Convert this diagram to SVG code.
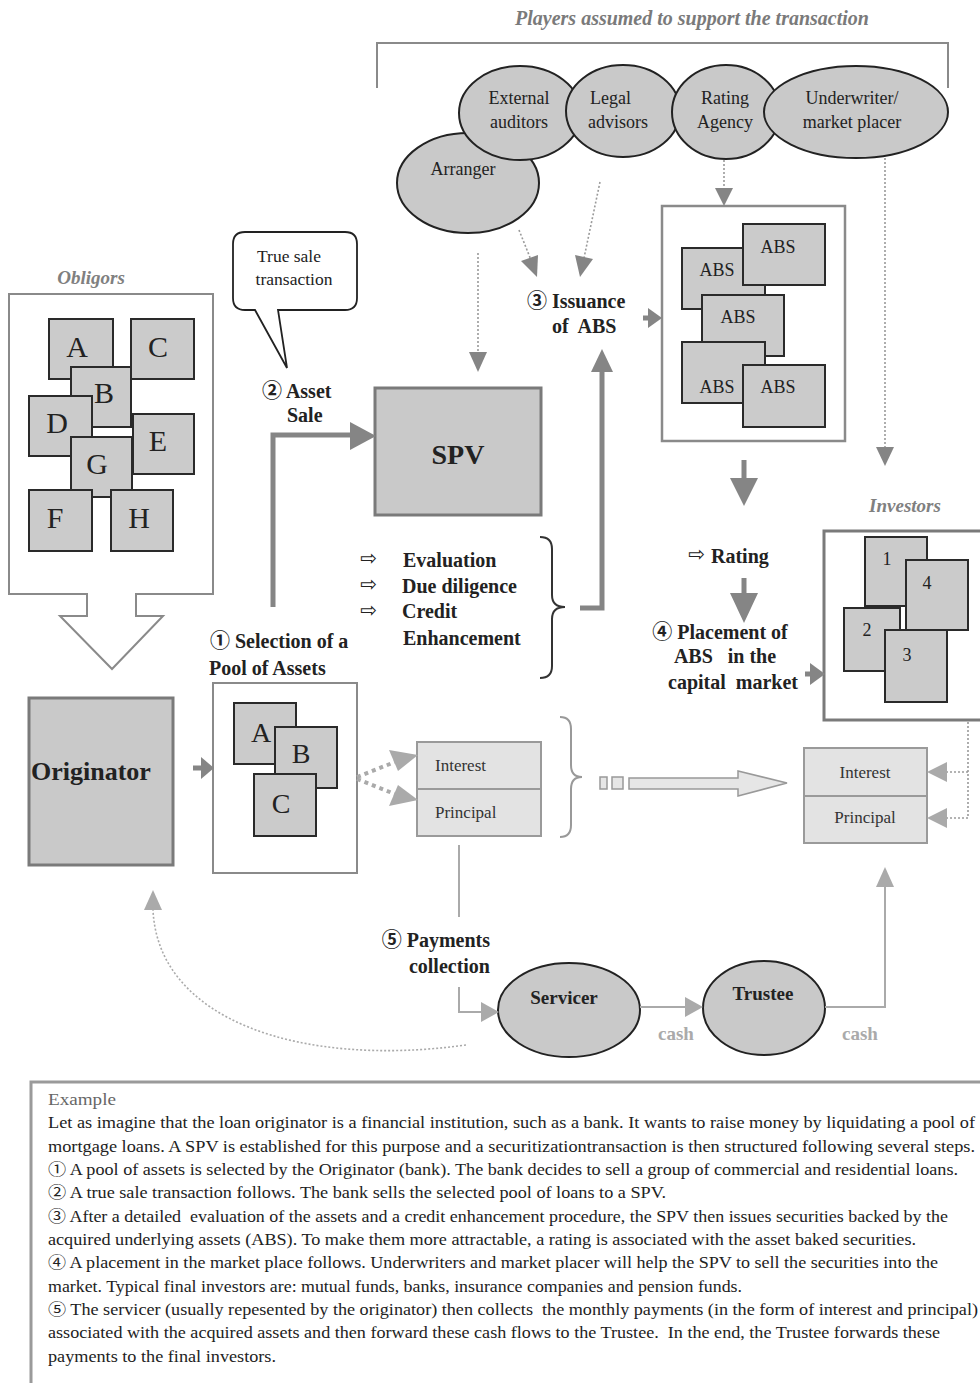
<svg xmlns="http://www.w3.org/2000/svg" width="980" height="1383" viewBox="0 0 980 1383">
<style>
.t{font-family:"Liberation Serif","DejaVu Serif","Noto Sans CJK JP",serif;fill:#222;white-space:pre}
.b{font-weight:bold}
.card{fill:#cbcbcb;stroke:#2a2a2a;stroke-width:2}
.ell{fill:#c9c9c9;stroke:#222;stroke-width:2}
.frame{fill:#fff;stroke:#8a8a8a;stroke-width:2.5}
.dot{stroke:#9a9a9a;stroke-width:1.6;stroke-dasharray:2 2;fill:none}
.head{fill:#858585}
.thick{stroke:#858585;stroke-width:5;fill:none}
.lite{stroke:#aaa;stroke-width:2;fill:none}
.litehead{fill:#aaa}
.ip{fill:#e3e3e3;stroke:#9a9a9a;stroke-width:2}
.arw{font-family:"DejaVu Sans",sans-serif;font-size:20px;fill:#222}
.ex{font-family:"Liberation Serif","DejaVu Serif","Noto Sans CJK JP",serif;font-size:16px;fill:#222;white-space:pre}
</style>
<rect width="980" height="1383" fill="#fff"/>

<g id="players">
<text class="t b" x="692" y="25" font-size="20" font-style="italic" style="fill:#7a7a7a" text-anchor="middle">Players assumed to support the transaction</text>
<path d="M377,88 V43 H948 V88" fill="none" stroke="#8a8a8a" stroke-width="2"/>
</g>
<g id="arranger"><ellipse class="ell" cx="468" cy="183" rx="71" ry="50"/><text class="t" x="463" y="175" font-size="18" text-anchor="middle">Arranger</text></g>
<g id="auditors"><ellipse class="ell" cx="520" cy="113" rx="61" ry="47"/><text class="t" x="519" y="104" font-size="18" text-anchor="middle">External</text><text class="t" x="519" y="128" font-size="18" text-anchor="middle">auditors</text></g>
<g id="legal"><ellipse class="ell" cx="623" cy="111" rx="57" ry="46"/><text class="t" x="590" y="104" font-size="18">Legal</text><text class="t" x="588" y="128" font-size="18">advisors</text></g>
<g id="rating"><ellipse class="ell" cx="726" cy="112" rx="54" ry="47"/><text class="t" x="725" y="104" font-size="18" text-anchor="middle">Rating</text><text class="t" x="725" y="128" font-size="18" text-anchor="middle">Agency</text></g>
<g id="underwriter"><ellipse class="ell" cx="856" cy="112" rx="92" ry="46"/><text class="t" x="852" y="104" font-size="18" text-anchor="middle">Underwriter/</text><text class="t" x="852" y="128" font-size="18" text-anchor="middle">market placer</text></g>

<g id="obligors">
<text class="t b" x="91" y="284" font-size="19" font-style="italic" style="fill:#808080" text-anchor="middle">Obligors</text>
<path d="M9,294 H213 V594 H136 V616 H163 L112,669 L60,616 H87 V594 H9 Z" fill="#fff" stroke="#8a8a8a" stroke-width="2"/>
<rect class="card" x="49" y="319" width="64" height="60"/><text class="t" x="77" y="357" font-size="30" text-anchor="middle">A</text>
<rect class="card" x="131" y="319" width="63" height="60"/><text class="t" x="158" y="357" font-size="30" text-anchor="middle">C</text>
<rect class="card" x="71" y="367" width="60" height="60"/><text class="t" x="104" y="403" font-size="30" text-anchor="middle">B</text>
<rect class="card" x="29" y="396" width="63" height="60"/><text class="t" x="57" y="433" font-size="30" text-anchor="middle">D</text>
<rect class="card" x="133" y="414" width="61" height="60"/><text class="t" x="158" y="451" font-size="30" text-anchor="middle">E</text>
<rect class="card" x="71" y="437" width="61" height="60"/><text class="t" x="97" y="474" font-size="30" text-anchor="middle">G</text>
<rect class="card" x="29" y="490" width="63" height="61"/><text class="t" x="55" y="528" font-size="30" text-anchor="middle">F</text>
<rect class="card" x="111" y="490" width="62" height="61"/><text class="t" x="139" y="528" font-size="30" text-anchor="middle">H</text>
</g>

<g id="truesale">
<path d="M245,232 H345 Q357,232 357,244 V298 Q357,310 345,310 H278 L287,368 L255,310 H245 Q233,310 233,298 V244 Q233,232 245,232 Z" fill="#fff" stroke="#222" stroke-width="1.8"/>
<text class="t" x="289" y="262" font-size="17.5" text-anchor="middle">True sale</text>
<text class="t" x="294" y="285" font-size="17.5" text-anchor="middle">transaction</text>
</g>

<g id="spv">
<rect x="375" y="388" width="166" height="127" fill="#c9c9c9" stroke="#7a7a7a" stroke-width="3"/>
<text class="t b" x="458" y="464" font-size="28" text-anchor="middle">SPV</text>
</g>

<g id="originator">
<rect x="29" y="698" width="144" height="167" fill="#c9c9c9" stroke="#7a7a7a" stroke-width="3"/>
<text class="t b" x="31" y="780" font-size="26">Originator</text>
</g>

<g id="pool">
<rect class="frame" x="213" y="683" width="144" height="190" style="stroke-width:2"/>
<rect class="card" x="234" y="703" width="62" height="61"/><text class="t" x="261" y="742" font-size="28" text-anchor="middle">A</text>
<rect class="card" x="275" y="727" width="62" height="61"/><text class="t" x="301" y="763" font-size="28" text-anchor="middle">B</text>
<rect class="card" x="254" y="774" width="62" height="62"/><text class="t" x="281" y="813" font-size="28" text-anchor="middle">C</text>
</g>

<g id="abs-box">
<rect class="frame" x="662" y="206" width="183" height="235"/>
<rect class="card" x="682" y="248" width="83" height="61"/><text class="t" x="717" y="276" font-size="18" text-anchor="middle">ABS</text>
<rect class="card" x="743" y="224" width="82" height="61"/><text class="t" x="778" y="253" font-size="18" text-anchor="middle">ABS</text>
<rect class="card" x="702" y="295" width="82" height="61"/><text class="t" x="738" y="323" font-size="18" text-anchor="middle">ABS</text>
<rect class="card" x="682" y="342" width="83" height="61"/><text class="t" x="717" y="393" font-size="18" text-anchor="middle">ABS</text>
<rect class="card" x="743" y="365" width="82" height="62"/><text class="t" x="778" y="393" font-size="18" text-anchor="middle">ABS</text>
</g>

<g id="investors">
<text class="t b" x="905" y="512" font-size="19" font-style="italic" style="fill:#808080" text-anchor="middle">Investors</text>
<rect x="824" y="531" width="200" height="189" fill="#fff" stroke="#7a7a7a" stroke-width="3"/>
<rect class="card" x="865" y="537" width="62" height="69"/><text class="t" x="887" y="565" font-size="18" text-anchor="middle">1</text>
<rect class="card" x="906" y="560" width="62" height="70"/><text class="t" x="927" y="589" font-size="18" text-anchor="middle">4</text>
<rect class="card" x="844" y="608" width="56" height="63"/><text class="t" x="867" y="636" font-size="18" text-anchor="middle">2</text>
<rect class="card" x="885" y="630" width="62" height="72"/><text class="t" x="907" y="661" font-size="18" text-anchor="middle">3</text>
</g>

<g id="ip-left">
<rect class="ip" x="417" y="742" width="124" height="47"/><rect class="ip" x="417" y="789" width="124" height="47"/>
<text class="t" x="435" y="771" font-size="17" style="fill:#333">Interest</text>
<text class="t" x="435" y="818" font-size="17" style="fill:#333">Principal</text>
</g>
<g id="ip-right">
<rect class="ip" x="804" y="748" width="123" height="48"/><rect class="ip" x="804" y="796" width="123" height="47"/>
<text class="t" x="865" y="778" font-size="17" style="fill:#333" text-anchor="middle">Interest</text>
<text class="t" x="865" y="823" font-size="17" style="fill:#333" text-anchor="middle">Principal</text>
</g>

<g id="servicer"><ellipse class="ell" cx="569" cy="1010" rx="71" ry="47"/><text class="t b" x="564" y="1004" font-size="19" text-anchor="middle">Servicer</text></g>
<g id="trustee"><ellipse class="ell" cx="764" cy="1008" rx="61" ry="47"/><text class="t b" x="763" y="1000" font-size="19" text-anchor="middle">Trustee</text></g>

<g id="labels">
<text class="t b" x="262" y="398" font-size="20">② Asset</text>
<text class="t b" x="287" y="422" font-size="20">Sale</text>
<text class="t b" x="527" y="308" font-size="20">③ Issuance</text>
<text class="t b" x="552" y="333" font-size="20">of  ABS</text>
<text class="t b" x="210" y="648" font-size="20">① Selection of a</text>
<text class="t b" x="209" y="675" font-size="20">Pool of Assets</text>
<text class="arw" x="360" y="565">⇨</text><text class="t b" x="403" y="567" font-size="20">Evaluation</text>
<text class="arw" x="360" y="591">⇨</text><text class="t b" x="402" y="593" font-size="20">Due diligence</text>
<text class="arw" x="360" y="617">⇨</text><text class="t b" x="402" y="618" font-size="20">Credit</text>
<text class="t b" x="403" y="645" font-size="20">Enhancement</text>
<text class="arw" x="688" y="561">⇨</text><text class="t b" x="711" y="563" font-size="20">Rating</text>
<text class="t b" x="720" y="639" font-size="20" text-anchor="middle">④ Placement of</text>
<text class="t b" x="725" y="663" font-size="20" text-anchor="middle">ABS   in the</text>
<text class="t b" x="733" y="689" font-size="20" text-anchor="middle">capital  market</text>
<text class="t b" x="490" y="947" font-size="20" text-anchor="end">⑤ Payments</text>
<text class="t b" x="490" y="973" font-size="20" text-anchor="end">collection</text>
<text class="t b" x="676" y="1040" font-size="19" text-anchor="middle" style="fill:#aaa">cash</text>
<text class="t b" x="860" y="1040" font-size="19" text-anchor="middle" style="fill:#aaa">cash</text>
</g>

<g id="connectors">
<line class="dot" x1="519" y1="230" x2="531" y2="260"/><polygon class="head" points="537,277 521,261 538,255"/>
<line class="dot" x1="600" y1="182" x2="584" y2="258"/><polygon class="head" points="580,277 575,255 593,259"/>
<line class="dot" x1="478" y1="253" x2="478" y2="353"/><polygon class="head" points="469,352 487,352 478,372"/>
<line class="dot" x1="724" y1="160" x2="724" y2="189"/><polygon class="head" points="715,188 733,188 724,206"/>
<line class="dot" x1="885" y1="158" x2="885" y2="448"/><polygon class="head" points="876,447 894,447 885,466"/>
<path class="thick" d="M273,607 V435 H352"/><polygon class="head" points="350,422 376,436 350,450"/>
<path d="M540,537 Q552,537 552,549 V595 Q552,607 565,607 Q552,607 552,619 V666 Q552,678 540,678" fill="none" stroke="#333" stroke-width="2"/>
<path class="thick" d="M580,608 H602 V370"/><polygon class="head" points="591,372 602,349 613,372"/>
<path class="thick" d="M643,318 H650"/><polygon class="head" points="648,308 662,318 648,328"/>
<path class="thick" d="M744,460 V480"/><polygon class="head" points="730,478 758,478 744,506"/>
<path class="thick" d="M744,578 V596"/><polygon class="head" points="730,593 758,593 744,623"/>
<path class="thick" d="M805,674 H812"/><polygon class="head" points="810,663 825,674 810,685"/>
<path class="thick" d="M193,768 H203"/><polygon class="head" points="201,757 214,768 201,779"/>
<path d="M357,777 L400,760 M357,779 L400,796" fill="none" stroke="#aaa" stroke-width="4" stroke-dasharray="4 4"/>
<polygon class="litehead" points="389,750 418,755 398,771"/>
<polygon class="litehead" points="398,785 418,800 389,806"/>
<path d="M560,717 Q571,717 571,729 V765 Q571,777 582,777 Q571,777 571,789 V825 Q571,837 560,837" fill="none" stroke="#999" stroke-width="2"/>
<rect x="600" y="777" width="7" height="12" fill="#e6e6e6" stroke="#999" stroke-width="1.5"/>
<rect x="612" y="777" width="11" height="12" fill="#e6e6e6" stroke="#999" stroke-width="1.5"/>
<path d="M629,778 H738 V771 L787,783 L738,796 V789 H629 Z" fill="#e6e6e6" stroke="#999" stroke-width="1.5"/>
<path class="dot" d="M968,722 V818 H946 M968,772 H946"/>
<polygon class="litehead" points="947,762 927,772 947,782"/>
<polygon class="litehead" points="947,808 927,818 947,828"/>
<path class="lite" d="M459,845 V917 M459,987 V1012 H482"/><polygon class="litehead" points="481,1002 499,1012 481,1022"/>
<path class="lite" d="M640,1007 H688"/><polygon class="litehead" points="685,997 703,1007 685,1017"/>
<path class="lite" d="M825,1007 H885 V885"/><polygon class="litehead" points="876,887 894,887 885,867"/>
<path d="M466,1045 C300,1068 158,1020 153,910" fill="none" stroke="#aaa" stroke-width="1.6" stroke-dasharray="2 2"/>
<polygon class="litehead" points="144,910 162,910 153,890"/>
</g>

<g id="example">
<rect x="31" y="1082" width="980" height="330" fill="none" stroke="#9a9a9a" stroke-width="3"/>
<text class="ex" x="48" y="1105" style="fill:#666" textLength="68" lengthAdjust="spacingAndGlyphs">Example</text>
<text class="ex" x="48" y="1128" textLength="927" lengthAdjust="spacingAndGlyphs">Let as imagine that the loan originator is a financial institution, such as a bank. It wants to raise money by liquidating a pool of</text>
<text class="ex" x="48" y="1152" textLength="927" lengthAdjust="spacingAndGlyphs">mortgage loans. A SPV is established for this purpose and a securitizationtransaction is then structured following several steps.</text>
<text class="ex" x="48" y="1175" textLength="910" lengthAdjust="spacingAndGlyphs">① A pool of assets is selected by the Originator (bank). The bank decides to sell a group of commercial and residential loans.</text>
<text class="ex" x="48" y="1198" textLength="618" lengthAdjust="spacingAndGlyphs">② A true sale transaction follows. The bank sells the selected pool of loans to a SPV.</text>
<text class="ex" x="48" y="1222" textLength="900" lengthAdjust="spacingAndGlyphs">③ After a detailed  evaluation of the assets and a credit enhancement procedure, the SPV then issues securities backed by the</text>
<text class="ex" x="48" y="1245" textLength="868" lengthAdjust="spacingAndGlyphs">acquired underlying assets (ABS). To make them more attractable, a rating is associated with the asset baked securities.</text>
<text class="ex" x="48" y="1268" textLength="890" lengthAdjust="spacingAndGlyphs">④ A placement in the market place follows. Underwriters and market placer will help the SPV to sell the securities into the</text>
<text class="ex" x="48" y="1292" textLength="694" lengthAdjust="spacingAndGlyphs">market. Typical final investors are: mutual funds, banks, insurance companies and pension funds.</text>
<text class="ex" x="48" y="1315" textLength="930" lengthAdjust="spacingAndGlyphs">⑤ The servicer (usually repesented by the originator) then collects  the monthly payments (in the form of interest and principal)</text>
<text class="ex" x="48" y="1338" textLength="892" lengthAdjust="spacingAndGlyphs">associated with the acquired assets and then forward these cash flows to the Trustee.  In the end, the Trustee forwards these</text>
<text class="ex" x="48" y="1362" textLength="228" lengthAdjust="spacingAndGlyphs">payments to the final investors.</text>
</g>
</svg>
